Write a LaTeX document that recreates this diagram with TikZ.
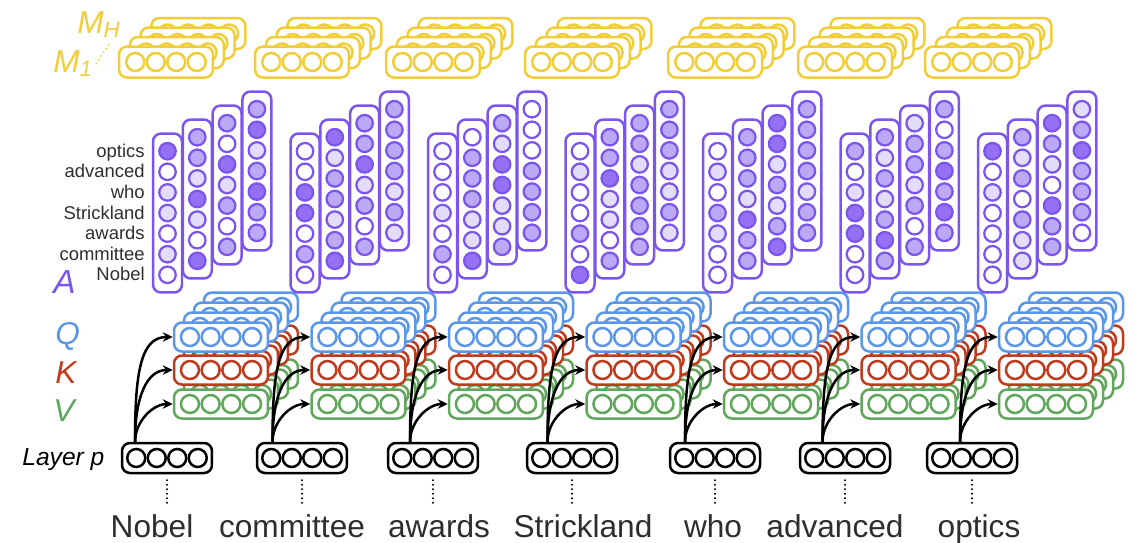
\documentclass[tikz,border=0pt]{standalone}
\usepackage{fontspec}
\setmainfont{Liberation Sans}
\usetikzlibrary{arrows.meta}

\definecolor{mgold}{HTML}{F1CD37}
\definecolor{apurple}{HTML}{7B55EC}
\definecolor{qblue}{HTML}{5A97EB}
\definecolor{kred}{HTML}{C03A1D}
\definecolor{vgreen}{HTML}{60A65B}
\definecolor{wordgray}{HTML}{2E2E2E}
\definecolor{ashade0}{HTML}{FFFFFF}
\definecolor{ashade1}{HTML}{E4DCFB}
\definecolor{ashade2}{HTML}{BBA9F5}
\definecolor{ashade3}{HTML}{9470F4}

\begin{document}
\begin{tikzpicture}[x=0.02cm,y=-0.02cm,>={Stealth[length=0.2cm,width=0.19cm]},
  vecbox/.style={draw,fill=white,line width=0.05cm,rounded corners=0.16cm,inner sep=0pt,minimum width=1.88cm,minimum height=0.58cm},
  cell/.style={line width=0.05cm},
  attcol/.style={draw=apurple,fill=white,line width=0.05cm,rounded corners=0.16cm,inner sep=0pt,minimum width=0.58cm,minimum height=3.18cm},
  acell/.style={draw=apurple,line width=0.045cm},
  lab/.style={font=\fontsize{18}{20}\selectfont\itshape,inner sep=0pt,anchor=base west},
  rowword/.style={font=\fontsize{10.5}{12}\selectfont,text=wordgray,inner sep=0pt,anchor=base east},
  word/.style={font=\fontsize{18}{20}\selectfont,text=wordgray,anchor=base,inner ysep=0.2cm,text height=0.46cm},
  feed/.style={->,line width=0.05cm}]
\useasboundingbox (0,0) rectangle (1135,542);

% memory stacks M_1 ... M_H
\foreach \g/\x in {1/166,2/302,3/433,4/572,5/715,6/845,7/972}{
  \foreach \lay in {3,2,1,0}{
    \node[vecbox,draw=mgold,minimum height=0.62cm] (m\g-\lay) at (\x+10.8*\lay,62-9.5*\lay) {};
    \foreach \i in {-1.5,-0.5,0.5,1.5}
      \draw[cell,mgold] (\x+10.8*\lay+20.5*\i,62-9.5*\lay) circle (0.18cm);
  }
}

% query / key / value stacks
\foreach \g in {1,...,7}{
  \pgfmathsetmacro\qx{221+137.5*(\g-1)}
  \foreach \nm/\col/\y in {v/vgreen/404,k/kred/370,q/qblue/337}{
    \foreach \lay in {3,2,1,0}{
      \node[vecbox,draw=\col] (\nm\g-\lay) at (\qx+10*\lay,\y-10*\lay) {};
      \foreach \i in {-1.5,-0.5,0.5,1.5}
        \draw[cell,\col] (\qx+10*\lay+20.7*\i,\y-10*\lay) circle (0.18cm);
    }
  }
}

% attention columns, shade 0..3 per row (top = optics)
\foreach \g/\hc/\vals in {
  1/1/{3,0,1,1,0,1,0}, 1/2/{2,2,1,3,1,0,3}, 1/3/{2,0,3,1,2,0,2}, 1/4/{2,3,1,2,3,2,2},
  2/1/{0,0,3,3,0,2,0}, 2/2/{3,1,2,2,1,2,3}, 2/3/{2,2,3,1,2,0,2}, 2/4/{2,2,2,2,1,2,1},
  3/1/{0,0,0,1,0,2,0}, 3/2/{0,2,2,2,1,1,3}, 3/3/{2,1,3,3,1,1,2}, 3/4/{0,0,0,2,2,2,2},
  4/1/{0,1,0,0,2,0,3}, 4/2/{2,2,3,1,1,0,2}, 4/3/{2,2,1,2,2,2,2}, 4/4/{2,2,2,1,1,2,1},
  5/1/{0,1,0,2,1,0,0}, 5/2/{2,2,2,1,3,2,2}, 5/3/{3,3,1,2,1,2,3}, 5/4/{2,2,2,2,1,2,2},
  6/1/{2,0,1,3,3,0,0}, 6/2/{2,1,2,1,2,3,2}, 6/3/{1,2,2,1,2,0,2}, 6/4/{2,0,2,3,2,3,2},
  7/1/{3,0,1,0,0,0,0}, 7/2/{2,1,2,0,2,1,1}, 7/3/{3,2,1,0,3,2,2}, 7/4/{1,2,3,2,2,2,0}}{
  \pgfmathsetmacro\ax{167.5+137.5*(\g-1)+29.8*(\hc-1)}
  \pgfmathsetmacro\ay{213-14*(\hc-1)}
  \node[attcol] (a\g-\hc) at (\ax,\ay) {};
  \foreach \s [count=\row] in \vals
    \draw[acell,fill=ashade\s] (\ax,\ay+20.6*\row-82.4) circle (0.165cm);
}

% row names of the first column
\foreach \w [count=\row] in {optics,advanced,who,Strickland,awards,committee,Nobel}
  \node[rowword] (r\row) at (145,136.6+20.6*\row) {\w};

% layer p and the input words
\foreach \g/\x/\wx/\w in {1/167/152/Nobel,2/302/292/committee,3/433/439/awards,4/572/583/Strickland,5/715/713/who,6/845/835/advanced,7/972/979/optics}{
  \node[vecbox,draw=black,minimum width=1.8cm,minimum height=0.6cm] (l\g) at (\x,458) {};
  \foreach \i in {-1.5,-0.5,0.5,1.5}
    \draw[cell] (\x+20.5*\i,458) circle (0.18cm);
  \node[word] (w\g) at (\wx,537) {\w};
  \draw[line width=0.045cm,line cap=round,dash pattern=on 0pt off 0.09cm,shorten <=0.12cm] (l\g.south) -- (l\g.south |- w\g.north);
}

% layer p feeds Q, K, V
\foreach \g in {1,...,7}{
  \pgfmathsetmacro\sx{135+137.5*(\g-1)}
  \coordinate (s\g) at (\sx,0);
  \draw[feed] (s\g |- l\g.north) .. controls +(0,-70) and +(-32,0) .. (q\g-0.west);
  \draw[feed] (s\g |- l\g.north) .. controls +(0,-45) and +(-26,0) .. (k\g-0.west);
  \draw[feed] (s\g |- l\g.north) .. controls +(0,-20) and +(-20,0) .. (v\g-0.west);
}

% side labels
\node[lab,text=mgold] (mh) at (77,33) {M\textsubscript{H}};
\node[lab,text=mgold] (m1) at (53,72) {M\textsubscript{1}};
\draw[mgold,line width=0.04cm,line cap=round,dash pattern=on 0pt off 0.09cm] ([xshift=0.06cm]m1.east) -- ([xshift=0.24cm,yshift=-0.06cm]mh.south);
\node[lab,text=apurple,font=\fontsize{19}{21}\selectfont\itshape] (alab) at (53,293) {A};
\node[lab,text=qblue] (qlab) at (55,344) {Q};
\node[lab,text=kred] (klab) at (55,383) {K};
\node[lab,text=vgreen] (vlab) at (53,421) {V};
\node[lab,font=\fontsize{14}{16}\selectfont\itshape] (llab) at (22,465) {Layer p};
\end{tikzpicture}
\end{document}
